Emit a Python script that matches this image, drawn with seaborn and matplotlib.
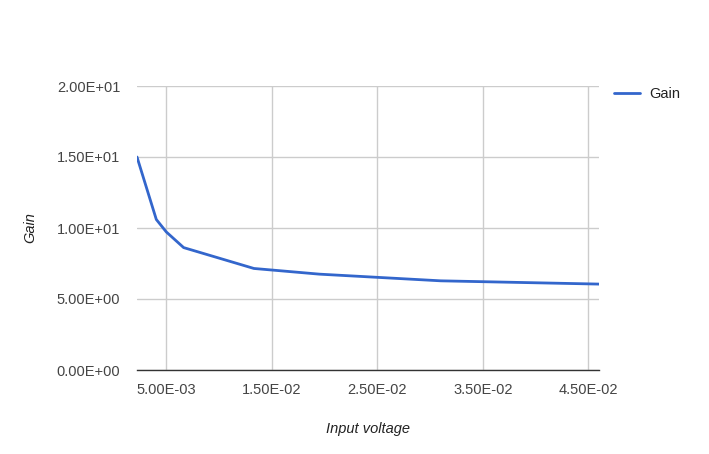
import matplotlib
matplotlib.use("Agg")
import matplotlib.pyplot as plt
from matplotlib.ticker import FuncFormatter
import seaborn as sns
import pandas as pd

# values
input_voltage = [0.00222, 0.00405, 0.0050, 0.00664, 0.0133, 0.0195, 0.0310, 0.0460]
gain = [15.0, 10.6, 9.72, 8.62, 7.15, 6.75, 6.28, 6.05]
x_ticks = [0.005, 0.015, 0.025, 0.035, 0.045]
y_ticks = [0, 5, 10, 15, 20]

df = pd.DataFrame({"Input voltage": input_voltage, "Gain": gain})

sns.set_theme(style="white")
plt.rcParams['font.family'] = ['Liberation Sans', 'DejaVu Sans']

fig = plt.figure(figsize=(7.09, 4.54), dpi=100)
ax = fig.add_axes([137/709, 84/454, 462/709, 284/454])

sns.lineplot(data=df, x="Input voltage", y="Gain", ax=ax, color="#3366cc",
             linewidth=2, label="Gain")

ax.set_xlim(0.00222, 0.0460)
ax.set_ylim(0, 20)
ax.set_xticks(x_ticks)
ax.set_yticks(y_ticks)
fmt = FuncFormatter(lambda v, p: f"{v:.2E}")
ax.xaxis.set_major_formatter(fmt)
ax.yaxis.set_major_formatter(fmt)
ax.grid(True, color="#cccccc", linewidth=1)
ax.set_axisbelow(True)
for s in ["top", "right", "left"]:
    ax.spines[s].set_visible(False)
ax.spines["bottom"].set_color("#333333")
ax.spines["bottom"].set_linewidth(1)
ax.tick_params(axis="both", length=0, labelsize=10.5, labelcolor="#444444")
ax.tick_params(axis="y", pad=12)
ax.tick_params(axis="x", pad=9)

ax.set_xlabel("Input voltage", fontsize=10.5, style="italic", color="#222222", labelpad=18)
ax.set_ylabel("Gain", fontsize=10.5, style="italic", color="#222222", labelpad=14)

ax.legend(loc="upper left", bbox_to_anchor=(608/709, 1 - 81/454), bbox_transform=fig.transFigure,
          frameon=False, fontsize=10.5, handlelength=1.8, handletextpad=0.6, borderaxespad=0)
for t in ax.get_legend().get_texts():
    t.set_color("#222222")

fig.savefig("out.png", dpi=100)
